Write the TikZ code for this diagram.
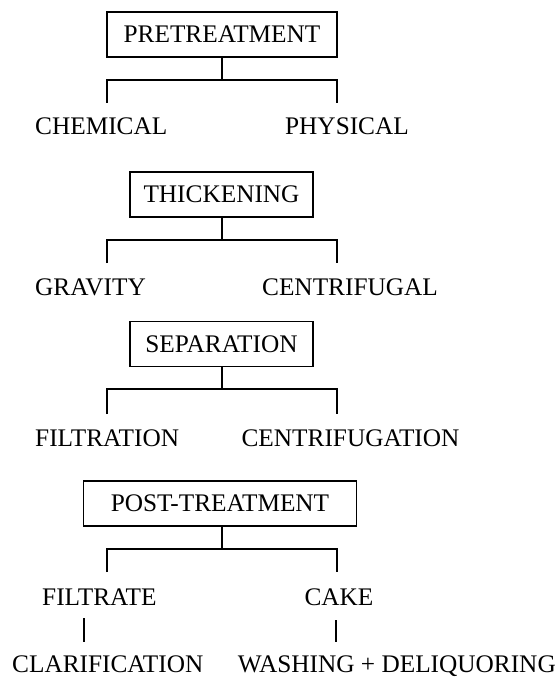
\documentclass[tikz,border=0pt]{standalone}
\usepackage{fontspec}
\setmainfont{Liberation Serif}
\begin{document}
\begin{tikzpicture}[x=1pt,y=-1pt,
  every node/.style={font=\fontsize{25.3}{30}\selectfont},
  stagebox/.style={draw,line width=1.1pt,inner sep=0pt,minimum height=45pt,text height=16.7pt,text depth=0pt},
  lbl/.style={inner sep=0pt},
  conn/.style={line width=1.1pt}]
\useasboundingbox (0,0) rectangle (559,679);
% boxes
\node[stagebox,minimum width=230pt] (b1) at (222,34.5) {PRETREATMENT};
\node[stagebox,minimum width=183pt] (b2) at (221.5,194.5) {THICKENING};
\node[stagebox,minimum width=183pt] (b3) at (221.5,344) {SEPARATION};
\node[stagebox,minimum width=273pt] (b4) at (220,503.5) {POST-TREATMENT};
% labels
\node[lbl,anchor=base west] (l1a) at (35,135) {CHEMICAL};
\node[lbl,anchor=base] (l1b) at (347,135) {PHYSICAL};
\node[lbl,anchor=base west] (l2a) at (35,295) {GRAVITY};
\node[lbl,anchor=base] (l2b) at (350,295) {CENTRIFUGAL};
\node[lbl,anchor=base west] (l3a) at (35,446) {FILTRATION};
\node[lbl,anchor=base] (l3b) at (350.5,446) {CENTRIFUGATION};
\node[lbl,anchor=base west] (l4a) at (42,605) {FILTRATE};
\node[lbl,anchor=base] (l4b) at (339,605) {CAKE};
\node[lbl,anchor=base west] (l5a) at (12,672) {CLARIFICATION};
\node[lbl,anchor=base east] (l5b) at (556,672) {WASHING + DELIQUORING};
% junctions
\coordinate (j1) at (222,80);
\coordinate (d1a) at (107,103);
\coordinate (d1b) at (337,103);
\coordinate (j2) at (222,240);
\coordinate (d2a) at (107,263);
\coordinate (d2b) at (337,263);
\coordinate (j3) at (222,389);
\coordinate (d3a) at (107,414);
\coordinate (d3b) at (337,414);
\coordinate (j4) at (222,549);
\coordinate (d4a) at (107,572);
\coordinate (d4b) at (337,572);
\coordinate (t5a) at (84,618);
\coordinate (e5a) at (84,642);
\coordinate (t5b) at (336,620);
\coordinate (e5b) at (336,642);
% connectors
\draw[conn] (j1 |- b1.south) -- (j1);
\draw[conn] (d1a) |- (j1) -| (d1b);
\draw[conn] (j2 |- b2.south) -- (j2);
\draw[conn] (d2a) |- (j2) -| (d2b);
\draw[conn] (j3 |- b3.south) -- (j3);
\draw[conn] (d3a) |- (j3) -| (d3b);
\draw[conn] (j4 |- b4.south) -- (j4);
\draw[conn] (d4a) |- (j4) -| (d4b);
\draw[conn] (t5a) -- (e5a);
\draw[conn] (t5b) -- (e5b);
\end{tikzpicture}
\end{document}
